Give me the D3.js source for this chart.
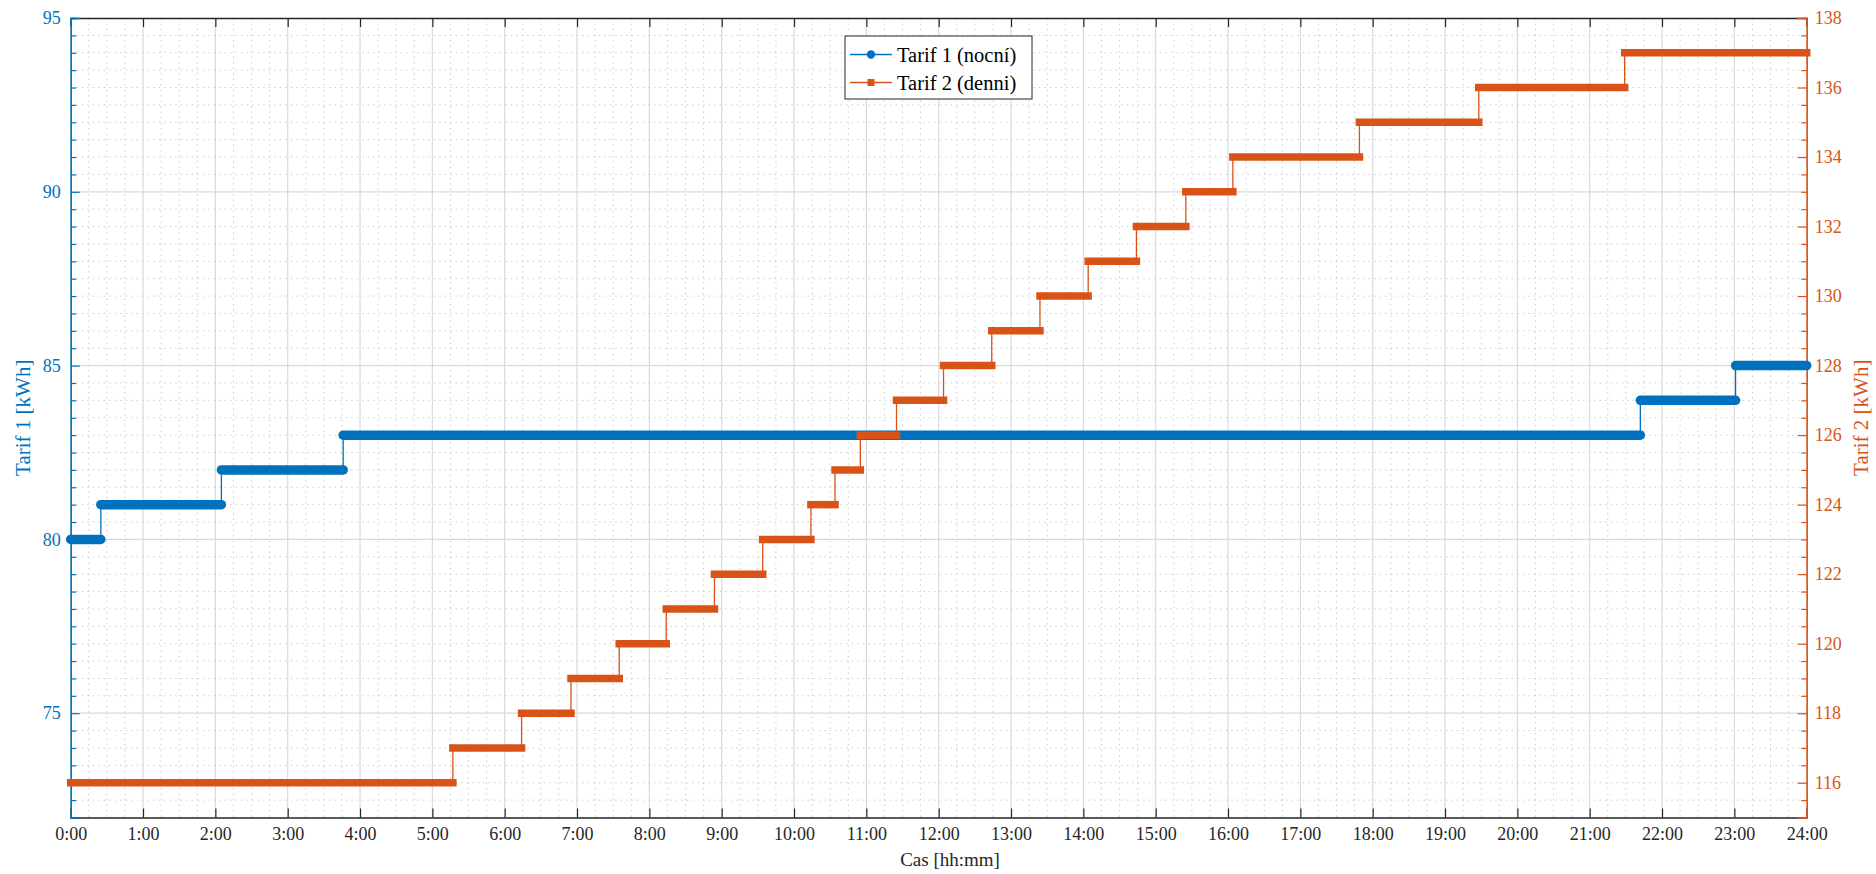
<!DOCTYPE html>
<html>
<head>
<meta charset="utf-8">
<script src="https://cdn.jsdelivr.net/npm/d3@7"></script>
<style>
  html, body { margin: 0; padding: 0; background: #fff; }
  svg { display: block; font-family: "Liberation Serif", "DejaVu Serif", serif; }
</style>
</head>
<body>
<div id="chart"></div>
<script>
// Tarif 1 (nocni) - time the reading changed and the new value [kWh]
const tarif1Start = ['0:00', '0:25', '2:05', '3:46', '21:42', '23:01'];
const tarif1Value = [80, 81, 82, 83, 84, 85];

// Tarif 2 (denni)
const tarif2Start = ['0:00', '5:17', '6:14', '6:55', '7:35', '8:14', '8:54', '9:34', '10:14', '10:34', '10:55',
  '11:25', '12:04', '12:44', '13:24', '14:04', '14:44', '15:25', '16:04', '17:49', '19:28', '21:29'];
const tarif2Value = [116, 117, 118, 119, 120, 121, 122, 123, 124, 125, 126,
  127, 128, 129, 130, 131, 132, 133, 134, 135, 136, 137];

const dayEnd = '24:00';
const hourTicks = d3.range(0, 25);          // 0:00 .. 24:00
const leftTicks = [75, 80, 85, 90, 95];
const rightTicks = [116, 118, 120, 122, 124, 126, 128, 130, 132, 134, 136, 138];

const blue = '#0072BD';
const orange = '#D95319';
const axisColor = '#262626';

const width = 1876, height = 874;
const margin = { top: 18, right: 69.3, bottom: 56.5, left: 70.7 };
const innerW = width - margin.left - margin.right;
const innerH = height - margin.top - margin.bottom;

// "H:MM" -> hours
const toHours = s => { const [h, m] = s.split(':').map(Number); return h + m / 60; };

// build flat levels [start, end, value]
function levels(starts, values) {
  return values.map((v, i) => ({
    t0: toHours(starts[i]),
    t1: toHours(i + 1 < starts.length ? starts[i + 1] : dayEnd),
    v: v
  }));
}
const t1Levels = levels(tarif1Start, tarif1Value);
const t2Levels = levels(tarif2Start, tarif2Value);

const x = d3.scaleLinear().domain([0, 24]).range([0, innerW]);
const yL = d3.scaleLinear().domain([72, 95]).range([innerH, 0]);
const yR = d3.scaleLinear().domain([115, 138]).range([innerH, 0]);

const svg = d3.select('#chart').append('svg')
  .attr('width', width).attr('height', height);
const g = svg.append('g').attr('transform', `translate(${margin.left},${margin.top})`);

// grid: minor dotted
const grid = g.append('g');
grid.selectAll('line.mx')
  .data(d3.range(0, 24.01, 0.25).filter(h => Math.abs(h - Math.round(h)) > 1e-6))
  .join('line')
  .attr('x1', d => x(d)).attr('x2', d => x(d))
  .attr('y1', 0).attr('y2', innerH)
  .attr('stroke', '#cdcdcd').attr('stroke-width', 1).attr('stroke-dasharray', '1.5,4');
grid.selectAll('line.my')
  .data(d3.range(72.5, 95, 0.5).filter(v => v % 5 !== 0))
  .join('line')
  .attr('x1', 0).attr('x2', innerW)
  .attr('y1', d => yL(d)).attr('y2', d => yL(d))
  .attr('stroke', '#cdcdcd').attr('stroke-width', 1).attr('stroke-dasharray', '1.5,4');
// grid: major
grid.selectAll('line.gx').data(hourTicks.slice(1, -1)).join('line')
  .attr('x1', d => x(d)).attr('x2', d => x(d))
  .attr('y1', 0).attr('y2', innerH)
  .attr('stroke', '#dadada').attr('stroke-width', 1.2);
grid.selectAll('line.gy').data(leftTicks.slice(0, -1)).join('line')
  .attr('x1', 0).attr('x2', innerW)
  .attr('y1', d => yL(d)).attr('y2', d => yL(d))
  .attr('stroke', '#dadada').attr('stroke-width', 1.2);

// axes
const fmtHour = h => `${h}:00`;
const xBottom = g.append('g').attr('transform', `translate(0,${innerH})`)
  .call(d3.axisBottom(x).tickValues(hourTicks).tickFormat(fmtHour).tickSize(-9).tickPadding(10));
const xTop = g.append('g')
  .call(d3.axisTop(x).tickValues(hourTicks).tickFormat('').tickSize(-9));

const leftMinor = d3.range(72.5, 95, 0.5).filter(v => v % 5 !== 0);
const rightMinor = d3.range(115.5, 138, 0.5).filter(v => v % 2 !== 0);

const yLeftMinor = g.append('g')
  .call(d3.axisLeft(yL).tickValues(leftMinor).tickFormat('').tickSize(-5.5));
const yLeft = g.append('g')
  .call(d3.axisLeft(yL).tickValues(leftTicks).tickSize(-9).tickPadding(10));
const yRightMinor = g.append('g').attr('transform', `translate(${innerW},0)`)
  .call(d3.axisRight(yR).tickValues(rightMinor).tickFormat('').tickSize(-5.5));
const yRight = g.append('g').attr('transform', `translate(${innerW},0)`)
  .call(d3.axisRight(yR).tickValues(rightTicks).tickSize(-9).tickPadding(8));

[xBottom, xTop].forEach(a => {
  a.select('.domain').attr('stroke', axisColor).attr('stroke-width', 1.3);
  a.selectAll('.tick line').attr('stroke', axisColor).attr('stroke-width', 1.2);
  a.selectAll('text').attr('fill', axisColor).attr('font-size', 18).attr('font-family', 'Liberation Serif');
});
[[yLeft, yLeftMinor, blue], [yRight, yRightMinor, orange]].forEach(([a, m, c]) => {
  [a, m].forEach(s => {
    s.select('.domain').attr('stroke', c).attr('stroke-width', 1.3);
    s.selectAll('.tick line').attr('stroke', c).attr('stroke-width', 1.2);
  });
  a.selectAll('text').attr('fill', c).attr('font-size', 18).attr('font-family', 'Liberation Serif');
});

// series
const stepLine = (lv, y) => {
  const pts = [];
  lv.forEach(d => { pts.push([x(d.t0), y(d.v)]); pts.push([x(d.t1), y(d.v)]); });
  return d3.line()(pts);
};

function drawSeries(lv, y, color, capStyle, thick) {
  const s = g.append('g');
  s.append('path')
    .attr('d', stepLine(lv, y))
    .attr('fill', 'none').attr('stroke', color).attr('stroke-width', 1.3);
  // dense markers appear as a thick band on each flat level
  s.selectAll('line.lvl').data(lv).join('line')
    .attr('x1', d => x(d.t0)).attr('x2', d => x(d.t1))
    .attr('y1', d => y(d.v)).attr('y2', d => y(d.v))
    .attr('stroke', color).attr('stroke-width', thick).attr('stroke-linecap', capStyle);
}
drawSeries(t1Levels, yL, blue, 'round', 9.5);
drawSeries(t2Levels, yR, orange, 'square', 7.5);

// axis labels
svg.append('text')
  .attr('x', 950).attr('y', 866)
  .attr('text-anchor', 'middle').attr('fill', axisColor).attr('font-size', 19)
  .text('Cas [hh:mm]');
svg.append('text')
  .attr('transform', `translate(30,${margin.top + innerH / 2}) rotate(-90)`)
  .attr('text-anchor', 'middle').attr('fill', blue).attr('font-size', 21)
  .text('Tarif 1 [kWh]');
svg.append('text')
  .attr('transform', `translate(1868,${margin.top + innerH / 2}) rotate(-90)`)
  .attr('text-anchor', 'middle').attr('fill', orange).attr('font-size', 21)
  .text('Tarif 2 [kWh]');

// legend
const legendItems = [
  { label: 'Tarif 1 (nocní)', color: blue, marker: 'circle' },
  { label: 'Tarif 2 (denni)', color: orange, marker: 'square' }
];
const lg = svg.append('g').attr('transform', 'translate(845,36)');
lg.append('rect').attr('width', 187).attr('height', 63)
  .attr('fill', '#fff').attr('stroke', axisColor).attr('stroke-width', 1);
legendItems.forEach((d, i) => {
  const yy = 18.5 + i * 28;
  const row = lg.append('g').attr('transform', `translate(0,${yy})`);
  row.append('line').attr('x1', 5).attr('x2', 47).attr('y1', 0).attr('y2', 0)
    .attr('stroke', d.color).attr('stroke-width', 1.3);
  if (d.marker === 'circle') {
    row.append('circle').attr('cx', 26).attr('cy', 0).attr('r', 4.2).attr('fill', d.color);
  } else {
    row.append('rect').attr('x', 22.5).attr('y', -3.5).attr('width', 7).attr('height', 7).attr('fill', d.color);
  }
  row.append('text').attr('x', 52).attr('y', 0).attr('dy', '0.35em')
    .attr('font-size', 20.5).attr('fill', '#000').text(d.label);
});
</script>
</body>
</html>
